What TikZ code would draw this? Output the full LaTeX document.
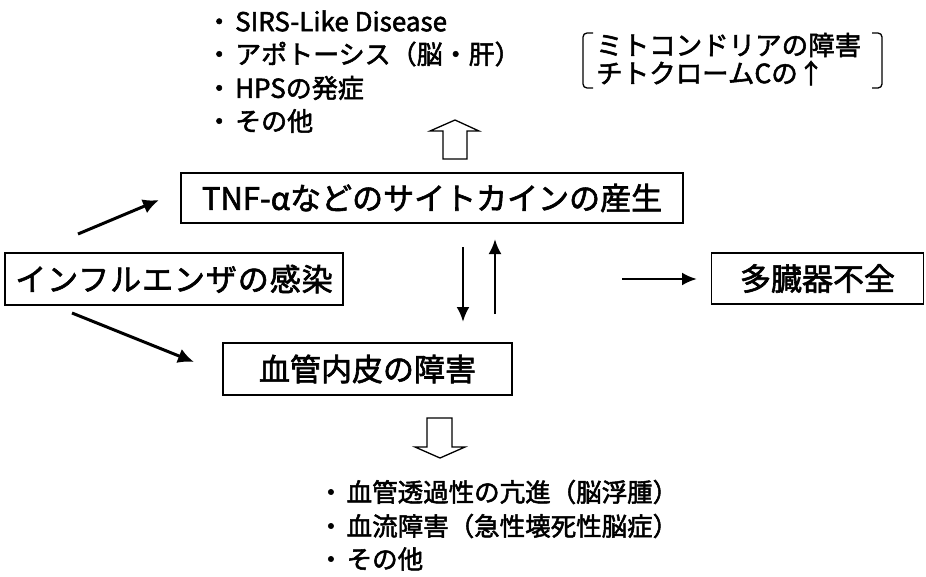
\documentclass[tikz,border=0pt]{standalone}
\usepackage{fontspec}
\setmainfont{Noto Sans CJK JP}[FakeBold=2]
\usetikzlibrary{arrows.meta}
\tikzset{
  boxnode/.style={draw, line width=1.3pt, inner sep=0pt, minimum width=#1, font=\fontsize{31}{36}\selectfont},
  listline/.style={anchor=west, inner sep=0pt, font=\fontsize{26}{30}\selectfont},
  botline/.style={anchor=west, inner sep=0pt, font=\fontsize{25.5}{30}\selectfont},
  solidarrow/.style={line width=3pt, -{Latex[length=16pt,width=15pt]}},
  vertarrow/.style={line width=2.6pt, -{Latex[length=15pt,width=13pt]}},
  hollow/.style={draw, line width=1.3pt, fill=white, line join=miter},
  bracketline/.style={line width=1.3pt, rounded corners=4pt}
}
\begin{document}
\begin{tikzpicture}[x=1pt, y=-1pt]
\useasboundingbox[fill=white] (0,0) rectangle (926,576);

% boxes
\node[boxnode=502pt, minimum height=50pt] (tnf) at (432,198) {TNF-αなどのサイトカインの産生};
\node[boxnode=338pt, minimum height=52pt, font=\fontsize{31}{36}\selectfont\addfontfeature{LetterSpace=3}] (inf) at (174,279) {インフルエンザの感染};
\node[boxnode=289pt, minimum height=52pt] (ves) at (367.5,369) {血管内皮の障害};
\node[boxnode=212pt, minimum height=51pt] (mof) at (817.5,278.5) {多臓器不全};

% top list
\node[listline] (t1) at (206,21) {・\kern3pt SIRS-Like Disease};
\node[listline] (t2) at (206,54) {・\kern3pt アポトーシス（脳・肝）};
\node[listline] (t3) at (206,88) {・\kern3pt HPSの発症};
\node[listline] (t4) at (206,121) {・\kern3pt その他};

% bracket note
\node[listline, font=\fontsize{26.5}{30}\selectfont] (m1) at (596,45) {ミトコンドリアの障害};
\node[listline, font=\fontsize{26.5}{30}\selectfont] (m2) at (596,73) {チトクロームCの↑};
\draw[bracketline] (593,33) -- (583,33) -- (583,88) -- (593,88);
\draw[bracketline] (872,33) -- (882,33) -- (882,88) -- (872,88);

% bottom list
\node[botline] (b1) at (318,492) {・\kern3pt 血管透過性の亢進（脳浮腫）};
\node[botline] (b2) at (318,526) {・\kern3pt 血流障害（急性壊死性脳症）};
\node[botline] (b3) at (318,559) {・\kern3pt その他};

% arrow end coordinates
\coordinate (a1s) at (78,234);
\coordinate (a1e) at (159,200);
\coordinate (a2s) at (72,313);
\coordinate (a2e) at (194,362);
\coordinate (a3s) at (463,247);
\coordinate (a3e) at (463,322);
\coordinate (a4s) at (495,314);
\coordinate (a4e) at (495,239);
\coordinate (a5s) at (622,279);
\coordinate (a5e) at (697,279);

\draw[solidarrow] (a1s) -- (a1e);
\draw[solidarrow] (a2s) -- (a2e);
\draw[vertarrow] (a3s) -- (a3e);
\draw[vertarrow] (a4s) -- (a4e);
\draw[vertarrow] (a5s) -- (a5e);

% hollow arrows
\draw[hollow] (443,159) -- (443,131) -- (430,131) -- (455,120) -- (479,131) -- (467,131) -- (467,159) -- cycle;
\draw[hollow] (427,418) -- (427,447) -- (415,447) -- (440,458) -- (465,447) -- (452,447) -- (452,418) -- cycle;
\end{tikzpicture}
\end{document}
